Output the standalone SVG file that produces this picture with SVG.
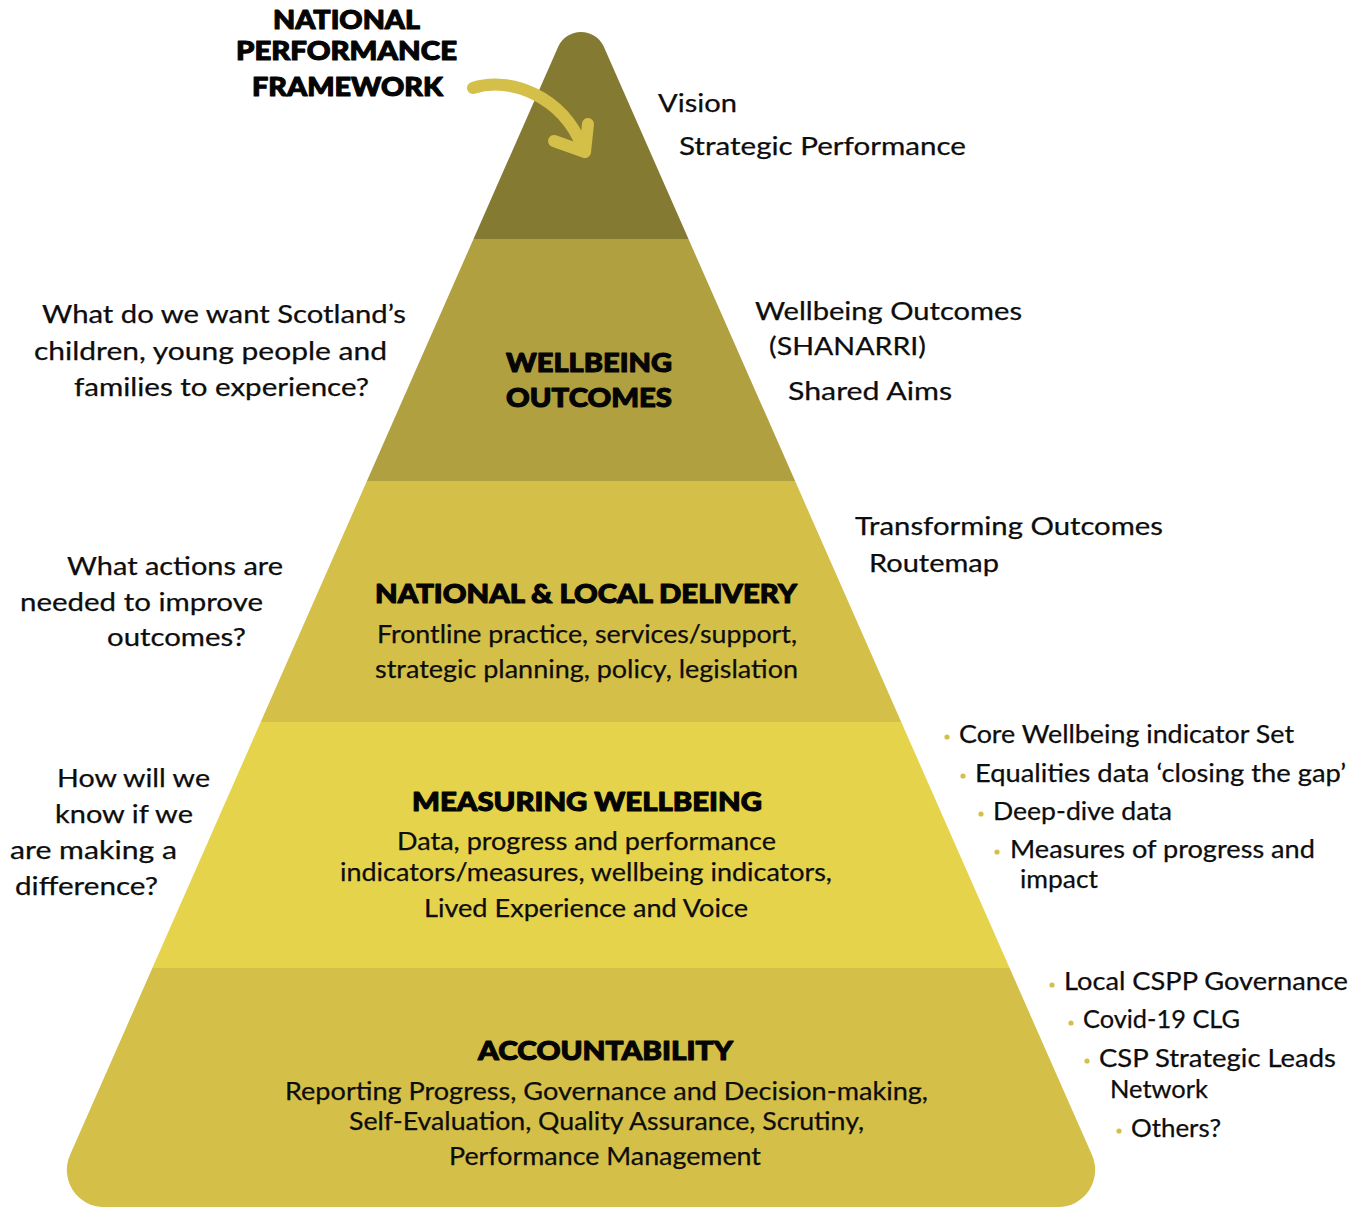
<svg xmlns="http://www.w3.org/2000/svg" width="1365" height="1207" viewBox="0 0 1365 1207">
<style>
.t{font-family:Lato,"Liberation Sans",sans-serif;font-size:25px;fill:#0d0d0d;stroke:#0d0d0d;stroke-width:0.25}
.h{font-family:Lato,"Liberation Sans",sans-serif;font-size:27px;font-weight:900;fill:#050505;stroke:#050505;stroke-width:1.1;stroke-linejoin:round}
.b{fill:#d4bf48}
.arrow{fill:none;stroke:#d4bf48;stroke-width:12;stroke-linecap:round;stroke-linejoin:round}
</style>
<defs>
<clipPath id="pyr">
<path d="M558.5 46 A25 25 0 0 1 603.5 46 L1091.8 1154.6 A37 37 0 0 1 1057.7 1207 L104.3 1207 A37 37 0 0 1 70.2 1154.6 Z"/>
</clipPath>
</defs>
<rect width="1365" height="1207" fill="#ffffff"/>

<g id="pyramid" clip-path="url(#pyr)">
<g id="band-npf"><rect x="0" y="0" width="1365" height="239" fill="#857a31"/></g>
<g id="band-wellbeing"><rect x="0" y="239" width="1365" height="242" fill="#b0a03f"/></g>
<g id="band-delivery"><rect x="0" y="481" width="1365" height="241" fill="#d4bf48"/></g>
<g id="band-measuring"><rect x="0" y="722" width="1365" height="246" fill="#e5d34b"/></g>
<g id="band-accountability"><rect x="0" y="968" width="1365" height="239" fill="#d4bf48"/></g>
</g>

<g id="connectors">
<path class="arrow" d="M473 88 C510 76 562 96 582 146"/>
<path class="arrow" d="M554 141 L585 152 L588 124"/>
</g>

<g id="title">
<text class="h" x="273" y="29" textLength="147" lengthAdjust="spacingAndGlyphs">NATIONAL</text>
<text class="h" x="236" y="60" textLength="221" lengthAdjust="spacingAndGlyphs">PERFORMANCE</text>
<text class="h" x="252" y="96" textLength="191" lengthAdjust="spacingAndGlyphs">FRAMEWORK</text>
</g>

<g id="wellbeing-outcomes">
<text class="h" x="506" y="372" textLength="166" lengthAdjust="spacingAndGlyphs">WELLBEING</text>
<text class="h" x="506" y="407" textLength="166" lengthAdjust="spacingAndGlyphs">OUTCOMES</text>
</g>

<g id="national-local-delivery">
<text class="h" x="375" y="603" textLength="422" lengthAdjust="spacingAndGlyphs">NATIONAL &amp; LOCAL DELIVERY</text>
<text class="t" x="377" y="643" textLength="420" lengthAdjust="spacingAndGlyphs">Frontline practice, services/support,</text>
<text class="t" x="375" y="678" textLength="423" lengthAdjust="spacingAndGlyphs">strategic planning, policy, legislation</text>
</g>

<g id="measuring-wellbeing">
<text class="h" x="412" y="811" textLength="350" lengthAdjust="spacingAndGlyphs">MEASURING WELLBEING</text>
<text class="t" x="397" y="850" textLength="379" lengthAdjust="spacingAndGlyphs">Data, progress and performance</text>
<text class="t" x="340" y="881" textLength="492" lengthAdjust="spacingAndGlyphs">indicators/measures, wellbeing indicators,</text>
<text class="t" x="424" y="917" textLength="324" lengthAdjust="spacingAndGlyphs">Lived Experience and Voice</text>
</g>

<g id="accountability">
<text class="h" x="478" y="1060" textLength="255" lengthAdjust="spacingAndGlyphs">ACCOUNTABILITY</text>
<text class="t" x="285" y="1100" textLength="643" lengthAdjust="spacingAndGlyphs">Reporting Progress, Governance and Decision-making,</text>
<text class="t" x="349" y="1130" textLength="515" lengthAdjust="spacingAndGlyphs">Self-Evaluation, Quality Assurance, Scrutiny,</text>
<text class="t" x="449" y="1165" textLength="312" lengthAdjust="spacingAndGlyphs">Performance Management</text>
</g>

<g id="label-vision">
<text class="t" x="658" y="112" textLength="79" lengthAdjust="spacingAndGlyphs">Vision</text>
<text class="t" x="679" y="155" textLength="287" lengthAdjust="spacingAndGlyphs">Strategic Performance</text>
</g>

<g id="label-wellbeing">
<text class="t" x="755" y="320" textLength="267" lengthAdjust="spacingAndGlyphs">Wellbeing Outcomes</text>
<text class="t" x="769" y="355" textLength="157" lengthAdjust="spacingAndGlyphs">(SHANARRI)</text>
<text class="t" x="788" y="400" textLength="164" lengthAdjust="spacingAndGlyphs">Shared Aims</text>
</g>

<g id="label-routemap">
<text class="t" x="855" y="535" textLength="308" lengthAdjust="spacingAndGlyphs">Transforming Outcomes</text>
<text class="t" x="869" y="572" textLength="130" lengthAdjust="spacingAndGlyphs">Routemap</text>
</g>

<g id="question-outcomes">
<text class="t" x="42" y="323" textLength="364" lengthAdjust="spacingAndGlyphs">What do we want Scotland’s</text>
<text class="t" x="34" y="360" textLength="353" lengthAdjust="spacingAndGlyphs">children, young people and</text>
<text class="t" x="74" y="396" textLength="295" lengthAdjust="spacingAndGlyphs">families to experience?</text>
</g>

<g id="question-actions">
<text class="t" x="67" y="575" textLength="216" lengthAdjust="spacingAndGlyphs">What actions are</text>
<text class="t" x="20" y="611" textLength="243" lengthAdjust="spacingAndGlyphs">needed to improve</text>
<text class="t" x="107" y="646" textLength="139" lengthAdjust="spacingAndGlyphs">outcomes?</text>
</g>

<g id="question-difference">
<text class="t" x="57" y="787" textLength="153" lengthAdjust="spacingAndGlyphs">How will we</text>
<text class="t" x="55" y="823" textLength="138" lengthAdjust="spacingAndGlyphs">know if we</text>
<text class="t" x="10" y="859" textLength="167" lengthAdjust="spacingAndGlyphs">are making a</text>
<text class="t" x="15" y="895" textLength="143" lengthAdjust="spacingAndGlyphs">difference?</text>
</g>

<g id="list-measuring">
<circle class="b" cx="947" cy="737" r="2.6"/>
<text class="t" x="959" y="743" textLength="335" lengthAdjust="spacingAndGlyphs">Core Wellbeing indicator Set</text>
<circle class="b" cx="963" cy="776" r="2.6"/>
<text class="t" x="975" y="782" textLength="371" lengthAdjust="spacingAndGlyphs">Equalities data ‘closing the gap’</text>
<circle class="b" cx="981" cy="814" r="2.6"/>
<text class="t" x="993" y="820" textLength="179" lengthAdjust="spacingAndGlyphs">Deep-dive data</text>
<circle class="b" cx="997" cy="852" r="2.6"/>
<text class="t" x="1010" y="858" textLength="305" lengthAdjust="spacingAndGlyphs">Measures of progress and</text>
<text class="t" x="1020" y="888" textLength="78" lengthAdjust="spacingAndGlyphs">impact</text>
</g>

<g id="list-accountability">
<circle class="b" cx="1052" cy="985" r="2.6"/>
<text class="t" x="1064" y="990" textLength="284" lengthAdjust="spacingAndGlyphs">Local CSPP Governance</text>
<circle class="b" cx="1071" cy="1023" r="2.6"/>
<text class="t" x="1083" y="1028" textLength="157" lengthAdjust="spacingAndGlyphs">Covid-19 CLG</text>
<circle class="b" cx="1087" cy="1061" r="2.6"/>
<text class="t" x="1099" y="1067" textLength="237" lengthAdjust="spacingAndGlyphs">CSP Strategic Leads</text>
<text class="t" x="1110" y="1098" textLength="98" lengthAdjust="spacingAndGlyphs">Network</text>
<circle class="b" cx="1119" cy="1131" r="2.6"/>
<text class="t" x="1131" y="1137" textLength="90" lengthAdjust="spacingAndGlyphs">Others?</text>
</g>
</svg>
